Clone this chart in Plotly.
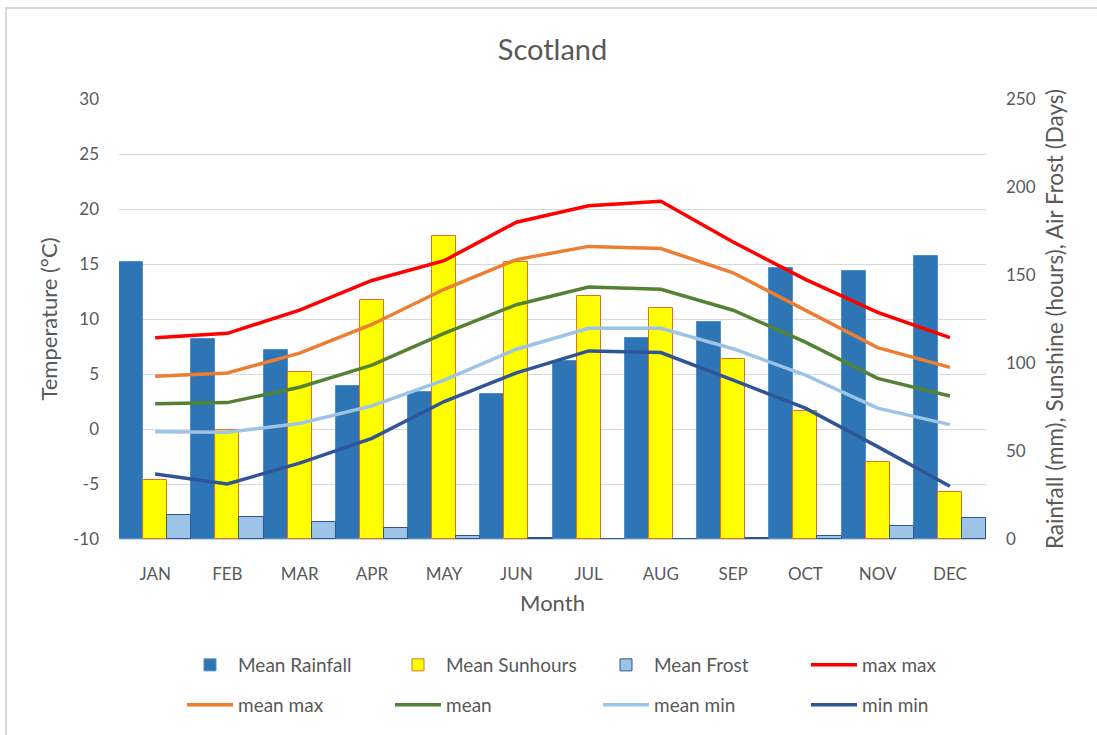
import plotly.graph_objects as go

months = ["JAN", "FEB", "MAR", "APR", "MAY", "JUN", "JUL", "AUG", "SEP", "OCT", "NOV", "DEC"]

# Secondary (right) axis series
mean_rainfall = [157.6, 113.4, 107.4, 87.1, 83.3, 82.6, 101.1, 114.0, 123.1, 154.2, 152.3, 160.8]
mean_sunhours = [33.5, 61.9, 94.7, 135.6, 172.0, 157.6, 138.0, 131.4, 102.1, 72.9, 43.9, 26.9]
mean_frost = [13.4, 12.7, 9.8, 6.1, 1.5, 0.3, 0.2, 0.2, 0.3, 1.5, 7.4, 11.9]

# Primary (left) axis temperature series
max_max = [8.3, 8.7, 10.8, 13.5, 15.3, 18.8, 20.3, 20.7, 17.0, 13.6, 10.6, 8.3]
mean_max = [4.8, 5.1, 6.9, 9.5, 12.7, 15.4, 16.6, 16.4, 14.2, 10.8, 7.4, 5.6]
mean_temp = [2.3, 2.4, 3.8, 5.8, 8.7, 11.3, 12.9, 12.7, 10.8, 7.9, 4.6, 3.0]
mean_min = [-0.25, -0.3, 0.5, 2.1, 4.45, 7.25, 9.15, 9.15, 7.3, 4.9, 1.9, 0.4]
min_min = [-4.1, -5.0, -3.1, -0.85, 2.5, 5.1, 7.1, 6.95, 4.45, 1.9, -1.6, -5.2]

temp_ticks = [-10, -5, 0, 5, 10, 15, 20, 25, 30]
temp_tick_text = ["-10", "-5", "0", "5", "10", "15", "20", "25", "30"]
right_ticks = [0, 50, 100, 150, 200, 250]

FONT = "Lato"
GREY = "#595959"

fig = go.Figure()

fig.add_trace(go.Bar(x=months, y=mean_rainfall, name="Mean Rainfall", yaxis="y",
                     marker=dict(color="#2E75B6", line=dict(color="#4F8FCB", width=1)),
                     legend="legend"))
fig.add_trace(go.Bar(x=months, y=mean_sunhours, name="Mean Sunhours", yaxis="y",
                     marker=dict(color="#FFFF00", line=dict(color="#E2701F", width=1)),
                     legend="legend"))
fig.add_trace(go.Bar(x=months, y=mean_frost, name="Mean Frost", yaxis="y",
                     marker=dict(color="#9DC3E6", line=dict(color="#2F5597", width=1)),
                     legend="legend"))

line_specs = [
    ("max max", max_max, "#FF0000", "legend"),
    ("mean max", mean_max, "#ED7D31", "legend2"),
    ("mean", mean_temp, "#548235", "legend2"),
    ("mean min", mean_min, "#9DC3E6", "legend2"),
    ("min min", min_min, "#2F5597", "legend2"),
]
for name, vals, col, lg in line_specs:
    fig.add_trace(go.Scatter(x=months, y=vals, name=name, yaxis="y2", mode="lines",
                             line=dict(color=col, width=3.5), legend=lg))

# gridlines for the temperature scale, drawn beneath the bars via minor grid of the right axis
lo, hi = temp_ticks[0], temp_ticks[-1]
rlo, rhi = right_ticks[0], right_ticks[-1]
grid_vals = [rlo + (t - lo) * (rhi - rlo) / (hi - lo) for t in temp_ticks[1:]]

legend_common = dict(orientation="h", xanchor="left", yanchor="middle",
                     xref="container", yref="container",
                     font=dict(family=FONT, size=19, color=GREY),
                     entrywidth=147, entrywidthmode="pixels", itemwidth=46,
                     bgcolor="rgba(0,0,0,0)", traceorder="normal")

fig.update_layout(
    width=1097, height=735,
    margin=dict(l=119, r=111, t=99, b=196),
    paper_bgcolor="white", plot_bgcolor="white",
    font=dict(family=FONT, size=17, color=GREY),
    title=dict(text="Scotland", x=0.5, xref="paper", y=1 - 50 / 735, yanchor="middle",
               font=dict(family=FONT, size=29, color=GREY)),
    barmode="group", bargap=0, bargroupgap=0,
    xaxis=dict(showline=True, linecolor="#C9D3E0", linewidth=1, showgrid=False,
               ticks="", ticklabelstandoff=20,
               tickfont=dict(family=FONT, size=17, color=GREY),
               title=dict(text="Month", standoff=12, font=dict(family=FONT, size=22, color=GREY))),
    yaxis=dict(side="right", range=[rlo, rhi], tickvals=right_ticks, showgrid=False,
               zeroline=False, showline=False, ticks="", ticklabelstandoff=19,
               tickfont=dict(family=FONT, size=17, color=GREY),
               minor=dict(tickmode="array", tickvals=grid_vals, showgrid=True,
                          gridcolor="#D9D9D9", gridwidth=1, ticks=""),
               title=dict(text="Rainfall (mm), Sunshine (hours), Air Frost (Days)", standoff=12,
                          font=dict(family=FONT, size=22.5, color=GREY))),
    yaxis2=dict(side="left", overlaying="y", range=[lo, hi], tickvals=temp_ticks,
                ticktext=temp_tick_text,
                showgrid=False, zeroline=False, showline=False, ticks="", ticklabelstandoff=19,
                tickfont=dict(family=FONT, size=17, color=GREY),
                title=dict(text="Temperature (°C)", standoff=9,
                           font=dict(family=FONT, size=22, color=GREY))),
    legend=dict(x=182 / 1097, y=1 - 665 / 735, **legend_common),
    legend2=dict(x=182 / 1097, y=1 - 705 / 735, **legend_common),
    showlegend=True,
    shapes=[dict(type="rect", xref="paper", yref="paper",
                 x0=(6 - 119) / 867, x1=1.3, y0=-0.6, y1=(539 - 8) / 440,
                 line=dict(color="#D9D9D9", width=2), fillcolor="rgba(0,0,0,0)", layer="below")],
)

fig.write_html("out.html", config={"displayModeBar": False},
               post_script="document.body.style.margin='0px';document.body.style.overflow='hidden';")
